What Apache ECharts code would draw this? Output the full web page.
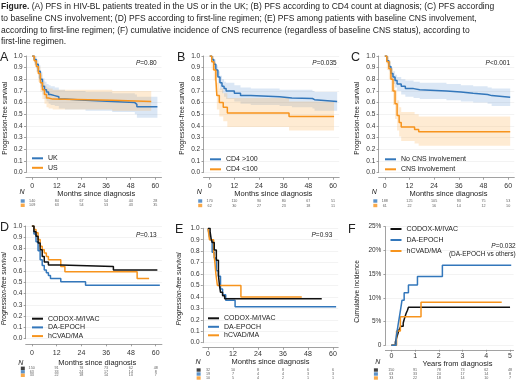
<!DOCTYPE html>
<html>
<head>
<meta charset="utf-8">
<script src="https://cdn.jsdelivr.net/npm/echarts@6/dist/echarts.min.js"></script>
<style>
  html, body { margin: 0; padding: 0; background: #fff; }
  #chart { width: 520px; height: 381px; }
</style>
</head>
<body>
<div id="chart"></div>
<script>
// ---- data ----
const monthTicks = [0, 12, 24, 36, 48, 60];
const yearTicks = [0, 1, 2, 3, 4, 5];

// (A) UK vs US
const ukT  = [0, 1, 2, 3, 4, 5, 6, 7, 8, 9, 11, 13, 16, 26, 39, 50, 51, 61];
const ukS  = [1.00, 0.97, 0.93, 0.87, 0.80, 0.74, 0.71, 0.69, 0.67, 0.66, 0.65, 0.63, 0.62, 0.61, 0.60, 0.585, 0.565, 0.565];
const ukLo = [1.00, 0.94, 0.89, 0.81, 0.73, 0.67, 0.63, 0.61, 0.59, 0.58, 0.57, 0.55, 0.54, 0.53, 0.52, 0.50, 0.47, 0.47];
const ukHi = [1.00, 1.00, 0.97, 0.92, 0.86, 0.81, 0.78, 0.76, 0.75, 0.74, 0.73, 0.71, 0.70, 0.69, 0.68, 0.67, 0.65, 0.65];
const usT  = [0, 1, 2, 3, 4, 5, 6, 7, 8, 10, 39, 58];
const usS  = [1.00, 0.96, 0.91, 0.85, 0.77, 0.71, 0.67, 0.64, 0.63, 0.62, 0.61, 0.61];
const usLo = [1.00, 0.92, 0.86, 0.78, 0.69, 0.63, 0.59, 0.56, 0.55, 0.54, 0.53, 0.53];
const usHi = [1.00, 1.00, 0.96, 0.91, 0.84, 0.79, 0.75, 0.73, 0.72, 0.71, 0.70, 0.70];
const riskA = [[140, 84, 67, 54, 44, 28], [109, 63, 54, 53, 43, 35]];

// (B) CD4 count
const cdHiT  = [0, 1, 2, 3, 4, 5, 6, 7, 8, 12, 15, 20, 34, 40, 50, 51, 62];
const cdHiS  = [1.00, 0.97, 0.93, 0.88, 0.82, 0.77, 0.74, 0.72, 0.70, 0.68, 0.66, 0.65, 0.64, 0.635, 0.625, 0.61, 0.61];
const cdHiLo = [1.00, 0.94, 0.89, 0.83, 0.77, 0.71, 0.68, 0.65, 0.63, 0.61, 0.59, 0.58, 0.57, 0.56, 0.55, 0.53, 0.53];
const cdHiHi = [1.00, 1.00, 0.97, 0.92, 0.87, 0.83, 0.80, 0.78, 0.77, 0.75, 0.73, 0.72, 0.71, 0.71, 0.70, 0.69, 0.69];
const cdLoT  = [0, 1, 2, 3, 3.5, 4.7, 6.6, 8.6, 38.6, 60.5];
const cdLoS  = [1.00, 0.95, 0.88, 0.80, 0.66, 0.60, 0.56, 0.51, 0.48, 0.48];
const cdLoLo = [1.00, 0.88, 0.79, 0.69, 0.54, 0.48, 0.44, 0.39, 0.36, 0.36];
const cdLoHi = [1.00, 1.00, 0.95, 0.89, 0.77, 0.72, 0.68, 0.64, 0.61, 0.61];
const riskB = [[170, 110, 90, 80, 67, 51], [62, 30, 27, 23, 18, 11]];

// (C) baseline CNS
const noT  = [0, 1, 2, 3, 4, 5, 6, 8, 10, 14, 17, 30, 37, 43, 50, 52, 61];
const noS  = [1.00, 0.96, 0.91, 0.85, 0.82, 0.79, 0.76, 0.74, 0.72, 0.71, 0.70, 0.69, 0.68, 0.67, 0.66, 0.645, 0.645];
const noLo = [1.00, 0.93, 0.87, 0.80, 0.76, 0.73, 0.70, 0.67, 0.65, 0.64, 0.63, 0.62, 0.61, 0.60, 0.59, 0.57, 0.57];
const noHi = [1.00, 0.99, 0.95, 0.90, 0.87, 0.84, 0.82, 0.80, 0.79, 0.78, 0.77, 0.76, 0.75, 0.74, 0.73, 0.72, 0.72];
const cnsT  = [0, 1, 2, 3, 4, 5, 6, 7, 8, 14.5, 16.5, 61];
const cnsS  = [1.00, 0.95, 0.89, 0.80, 0.70, 0.59, 0.49, 0.43, 0.39, 0.37, 0.35, 0.35];
const cnsLo = [1.00, 0.88, 0.80, 0.69, 0.58, 0.46, 0.36, 0.31, 0.27, 0.25, 0.23, 0.23];
const cnsHi = [1.00, 1.00, 0.96, 0.89, 0.81, 0.71, 0.62, 0.56, 0.52, 0.50, 0.48, 0.48];
const riskC = [[188, 125, 105, 93, 75, 53], [61, 22, 16, 14, 12, 10]];

// (D) first-line regimen
const codoxDT = [0, 1, 2, 3, 4, 5, 6, 8, 14, 39.5, 60.8];
const codoxDS = [1.00, 0.95, 0.91, 0.85, 0.79, 0.73, 0.68, 0.655, 0.64, 0.61, 0.61];
const epochDT = [0, 1, 2, 3, 4, 5, 6, 7, 8, 9, 14, 26, 62];
const epochDS = [1.00, 0.93, 0.86, 0.78, 0.70, 0.65, 0.61, 0.585, 0.56, 0.535, 0.505, 0.475, 0.475];
const hcvadDT = [0, 1, 2, 3, 4, 5, 6, 7, 8, 14, 16, 51, 56.8];
const hcvadDS = [1.00, 0.97, 0.94, 0.88, 0.82, 0.79, 0.76, 0.73, 0.70, 0.64, 0.595, 0.535, 0.535];
const riskD = [[150, 91, 78, 73, 62, 48], [63, 33, 24, 17, 14, 8], [33, 22, 18, 14, 10, 7]];

// (E) baseline CNS, by regimen
const codoxET = [0, 1, 1.5, 2, 3, 4, 5, 5.5, 6, 7, 8, 54.6];
const codoxES = [1.00, 0.97, 0.91, 0.875, 0.81, 0.72, 0.59, 0.50, 0.44, 0.41, 0.385, 0.385];
const epochET = [0, 0.5, 1, 2, 3, 4, 5, 6, 7, 8.5, 13, 61.5];
const epochES = [1.00, 0.95, 0.90, 0.79, 0.74, 0.63, 0.58, 0.47, 0.42, 0.37, 0.315, 0.315];
const hcvadET = [0, 0.7, 2.7, 3.3, 3.8, 4.5, 15.8, 45];
const hcvadES = [1.00, 0.90, 0.80, 0.70, 0.60, 0.50, 0.40, 0.40];
const riskE = [[32, 10, 8, 8, 6, 6], [19, 7, 4, 4, 3, 3], [10, 5, 4, 2, 1, 1]];

// (F) cumulative incidence of CNS recurrence (%)
const codoxFT = [0, 0.17, 0.25, 0.32, 0.4, 0.5, 0.55, 0.62, 0.68, 0.72, 5.0];
const codoxFV = [0, 0.7, 2.0, 3.2, 4.0, 4.7, 5.6, 6.7, 7.4, 8.0, 8.0];
const epochFT = [0, 0.2, 0.25, 0.3, 0.35, 0.4, 0.45, 0.54, 0.72, 1.1, 2.15, 5.05];
const epochFV = [0, 1.6, 3.2, 4.8, 6.3, 7.9, 9.5, 11.1, 12.7, 14.5, 16.9, 16.9];
const hcvadFT = [0, 0.22, 0.38, 1.25, 4.65];
const hcvadFV = [0, 3.0, 6.0, 9.1, 9.1];
const riskF = [[150, 91, 78, 73, 62, 48], [63, 33, 24, 17, 14, 8], [33, 22, 18, 14, 10, 7]];

// ---- styling ----
const BLUE = '#3377bb', ORANGE = '#f7941d', BLACK = '#111111';
const BLUE_BAND = 'rgba(90,145,210,0.22)', ORANGE_BAND = 'rgba(250,170,70,0.24)';
const FONT = '"Liberation Sans", Arial, sans-serif';
const AXIS = '#8a8a8a';

const chart = echarts.init(document.getElementById('chart'));

function pairs(t, v) { return t.map((x, i) => [x, v[i]]); }

function curve(name, t, v, color, g) {
  return {
    name, type: 'line', xAxisIndex: g, yAxisIndex: g, step: 'end', symbol: 'none',
    data: pairs(t, v), lineStyle: { color, width: 1.5 }, itemStyle: { color }, z: 3, silent: true
  };
}

// confidence band as one step-shaped polygon, placed through the axes
function band(t, lo, hi, color, g) {
  return {
    type: 'custom', xAxisIndex: g, yAxisIndex: g, silent: true, z: 1,
    data: t.map((x, i) => [x, lo[i], hi[i]]),
    encode: { x: 0, y: [1, 2] },
    renderItem(params, api) {
      if (params.dataIndex !== 0) return null;
      const up = [], dn = [];
      for (let i = 0; i < t.length; i++) {
        const x2 = i + 1 < t.length ? t[i + 1] : t[i];
        up.push(api.coord([t[i], hi[i]]), api.coord([x2, hi[i]]));
        dn.push(api.coord([t[i], lo[i]]), api.coord([x2, lo[i]]));
      }
      return { type: 'polygon', shape: { points: up.concat(dn.reverse()) }, style: { fill: color } };
    }
  };
}

function atRisk(g, ticks, rows, colors, keyX) {
  const out = rows.map((r, ri) => ({
    type: 'scatter', xAxisIndex: g, yAxisIndex: g, symbolSize: 1, itemStyle: { color: 'transparent' },
    data: r.map((n, i) => [ticks[i], ri, n]), silent: true,
    label: { show: true, position: 'inside', formatter: p => p.value[2], fontSize: 3.7, color: '#333', fontFamily: FONT }
  }));
  out.push({
    type: 'scatter', xAxisIndex: g, yAxisIndex: g, symbol: 'rect', symbolSize: [4, 3.4], clip: false, silent: true,
    data: colors.map((c, ri) => ({ value: [keyX, ri], itemStyle: { color: c } }))
  });
  return out;
}

// panel geometry
const panels = [
  { key: 'A', left: 26, top: 56, width: 135.5, height: 116.5, min: -3, max: 63, off: 5.2, margin: 4.5, nameGap: 10.3, namePad: 5,
    yName: 'Progression-free survival', yGap: 17.5, yPad: 8, italic: false, nTop: 201, nH: 4.3, keyX: -4.6 },
  { key: 'B', left: 203.5, top: 56, width: 135.7, height: 116.5, min: -3, max: 63, off: 5.2, margin: 4.5, nameGap: 10.3, namePad: 4,
    yName: 'Progression-free survival', yGap: 17.7, yPad: 8, italic: false, nTop: 201, nH: 4.5, keyX: -4.6 },
  { key: 'C', left: 378.6, top: 56, width: 135.7, height: 116.5, min: -3, max: 63, off: 5.2, margin: 4.5, nameGap: 10.3, namePad: 4,
    yName: 'Progression-free survival', yGap: 18, yPad: 8, italic: false, nTop: 201, nH: 4.5, keyX: -4.6 },
  { key: 'D', left: 25.5, top: 226, width: 136.4, height: 112.7, min: -3, max: 63, off: 5.6, margin: 5.5, nameGap: 14.7, namePad: 7,
    yName: 'Progression-free survival', yGap: 17.7, yPad: 13, italic: true, nTop: 368.3, nH: 7, keyX: -4.3 },
  { key: 'E', left: 202.8, top: 228.3, width: 135.4, height: 114.4, min: -2.5, max: 62.5, off: 5, margin: 2.5, nameGap: 10.3, namePad: 0,
    yName: 'Progression-free survival', yGap: 19.7, yPad: 7, italic: true, nTop: 370, nH: 8, keyX: -4.5 },
  { key: 'F', left: 385.4, top: 226.7, width: 128.2, height: 118.6, min: -0.25, max: 5.15, off: 4.5, margin: 2.5, nameGap: 10, namePad: 16,
    yName: 'Cumulative incidence', yGap: 25, yPad: 11, italic: false, nTop: 370, nH: 8, keyX: -0.65 }
];

const grid = [], xAxis = [], yAxis = [];
panels.forEach((p, i) => {
  const isF = p.key === 'F';
  const ticks = isF ? yearTicks : monthTicks;
  const g = 2 * i;
  grid.push({ left: p.left, top: p.top, width: p.width, height: p.height });
  grid.push({ left: p.left, top: p.nTop, width: p.width, height: p.nH });
  xAxis.push({
    gridIndex: g, type: 'value', min: p.min, max: p.max, offset: p.off,
    name: isF ? 'Years from diagnosis' : 'Months since diagnosis', nameLocation: 'middle', nameGap: p.nameGap,
    nameTextStyle: { fontSize: 7.5, color: '#222', fontFamily: FONT, padding: [0, 0, 0, p.namePad] },
    axisLine: { show: true, onZero: false, lineStyle: { color: AXIS, width: 0.8 } },
    axisTick: { show: true, customValues: ticks, length: 2, lineStyle: { color: AXIS, width: 0.8 } },
    axisLabel: { customValues: ticks, fontSize: 7, color: '#333', margin: p.margin, fontFamily: FONT },
    splitLine: { show: false }
  });
  xAxis.push({ gridIndex: g + 1, type: 'value', min: p.min, max: p.max, show: false });
  yAxis.push({
    gridIndex: g, type: 'value', min: 0, max: isF ? 25 : 1, interval: isF ? 5 : 0.1,
    name: p.yName, nameLocation: 'middle', nameGap: p.yGap,
    nameTextStyle: { fontSize: 6.6, color: '#222', fontFamily: FONT, fontStyle: p.italic ? 'italic' : 'normal', padding: [0, p.yPad, 0, 0] },
    axisLine: { show: true, onZero: false, lineStyle: { color: AXIS, width: 0.8 } },
    axisTick: { show: true, length: 2, lineStyle: { color: AXIS, width: 0.8 } },
    axisLabel: { fontSize: 6.5, color: '#333', margin: isF ? 4 : 3.3, fontFamily: FONT,
      formatter: isF ? (v => v === 0 ? '0' : v + '%') : (v => v.toFixed(1)) },
    splitLine: { show: true, lineStyle: { color: '#eeeeee', width: 0.7 } }
  });
  yAxis.push({ gridIndex: g + 1, type: 'value', min: 0, max: i < 3 ? 1 : 2, inverse: true, show: false });
});

const series = [].concat(
  band(ukT, ukLo, ukHi, BLUE_BAND, 0), band(usT, usLo, usHi, ORANGE_BAND, 0),
  curve('UK', ukT, ukS, BLUE, 0), curve('US', usT, usS, ORANGE, 0),
  atRisk(1, monthTicks, riskA, [BLUE, ORANGE], panels[0].keyX),

  band(cdHiT, cdHiLo, cdHiHi, BLUE_BAND, 2), band(cdLoT, cdLoLo, cdLoHi, ORANGE_BAND, 2),
  curve('CD4 >100', cdHiT, cdHiS, BLUE, 2), curve('CD4 <100', cdLoT, cdLoS, ORANGE, 2),
  atRisk(3, monthTicks, riskB, [BLUE, ORANGE], panels[1].keyX),

  band(noT, noLo, noHi, BLUE_BAND, 4), band(cnsT, cnsLo, cnsHi, ORANGE_BAND, 4),
  curve('No CNS involvement', noT, noS, BLUE, 4), curve('CNS involvement', cnsT, cnsS, ORANGE, 4),
  atRisk(5, monthTicks, riskC, [BLUE, ORANGE], panels[2].keyX),

  curve('DA-EPOCH', epochDT, epochDS, BLUE, 6), curve('hCVAD/MA', hcvadDT, hcvadDS, ORANGE, 6),
  curve('CODOX-M/IVAC', codoxDT, codoxDS, BLACK, 6),
  atRisk(7, monthTicks, riskD, [BLACK, BLUE, ORANGE], panels[3].keyX),

  curve('DA-EPOCH', epochET, epochES, BLUE, 8), curve('hCVAD/MA', hcvadET, hcvadES, ORANGE, 8),
  curve('CODOX-M/IVAC', codoxET, codoxES, BLACK, 8),
  atRisk(9, monthTicks, riskE, [BLACK, BLUE, ORANGE], panels[4].keyX),

  curve('CODOX-M/IVAC', codoxFT, codoxFV, BLACK, 10), curve('hCVAD/MA', hcvadFT, hcvadFV, ORANGE, 10),
  curve('DA-EPOCH', epochFT, epochFV, BLUE, 10),
  atRisk(11, yearTicks, riskF, [BLACK, BLUE, ORANGE], panels[5].keyX)
);

function legend(data, left, top, gap) {
  return {
    data, left, top, orient: 'vertical', icon: 'rect', itemWidth: 11, itemHeight: 2, itemGap: gap,
    selectedMode: false, padding: 0,
    textStyle: { fontSize: 7, lineHeight: 8, color: '#222', fontFamily: FONT }
  };
}
const regimens = ['CODOX-M/IVAC', 'DA-EPOCH', 'hCVAD/MA'];

function txt(x, y, text, size, align) {
  return {
    type: 'text', x, y, silent: true,
    style: { text, font: size + 'px ' + FONT, fill: '#222', align: align || 'left', verticalAlign: 'middle',
      rich: { i: { fontStyle: 'italic', fontSize: size, fontFamily: FONT }, b: { fontWeight: 'bold', fontSize: size, fontFamily: FONT } } }
  };
}

const caption = [
  '{b|Figure.} (A) PFS in HIV-BL patients treated in the US or in the UK; (B) PFS according to CD4 count at diagnosis; (C) PFS according',
  'to baseline CNS involvement; (D) PFS according to first-line regimen; (E) PFS among patients with baseline CNS involvement,',
  'according to first-line regimen; (F) cumulative incidence of CNS recurrence (regardless of baseline CNS status), according to',
  'first-line regimen.'
];

const graphic = [
  { type: 'text', x: 1, y: 0.8, silent: true,
    style: { text: caption.join('\n'), font: '8.5px ' + FONT, fill: '#222', lineHeight: 11.8,
      rich: { b: { fontWeight: 'bold', fontSize: 8.5, fontFamily: FONT, lineHeight: 11.8 } } } },
  // panel letters
  txt(0, 57.5, 'A', 12.5), txt(177, 57.5, 'B', 12.5), txt(351, 57.5, 'C', 12.5),
  txt(0, 227.5, 'D', 12.5), txt(175, 229.5, 'E', 12.5), txt(348, 229.5, 'F', 12.5),
  // p-values
  txt(156.7, 63.5, '{i|P}=0.80', 6.5, 'right'), txt(336.7, 63.5, '{i|P}=0.035', 6.5, 'right'),
  txt(510, 63.5, '{i|P}<0.001', 6.5, 'right'), txt(156.7, 235, '{i|P}=0.13', 6.5, 'right'),
  txt(332.3, 235, '{i|P}=0.93', 6.5, 'right'),
  txt(515.7, 246, '{i|P}=0.032', 6.5, 'right'), txt(515.7, 254, '(DA-EPOCH vs others)', 6.5, 'right'),
  // at-risk headers
  txt(22, 191.7, '{i|N}', 7, 'center'), txt(199.3, 191.7, '{i|N}', 7, 'center'), txt(374.3, 191.7, '{i|N}', 7, 'center'),
  txt(20.7, 362.7, '{i|N}', 7, 'center'), txt(198, 361.7, '{i|N}', 7, 'center'), txt(377.7, 361.7, '{i|N}', 7, 'center')
];

chart.setOption({
  animation: false,
  textStyle: { fontFamily: FONT },
  grid, xAxis, yAxis, series, graphic,
  legend: [
    legend(['UK', 'US'], 32, 154.3, 1.5),
    legend(['CD4 >100', 'CD4 <100'], 210, 155.3, 2),
    legend(['No CNS involvement', 'CNS involvement'], 385, 155.3, 2),
    legend(regimens, 32, 314.7, 0.7),
    legend(regimens, 208, 314.3, 0.5),
    legend(regimens, 390.5, 225, 3)
  ]
});
</script>
</body>
</html>
